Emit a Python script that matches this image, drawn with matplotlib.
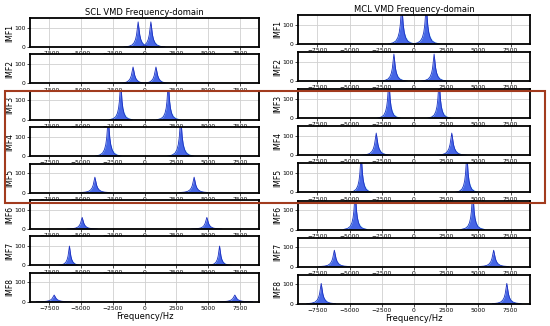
import numpy as np
import matplotlib
matplotlib.use("Agg")
import matplotlib.pyplot as plt
from matplotlib.patches import Rectangle

# ── Data ─────────────────────────────────────────────────────────────────────
IMF_LABELS = ["IMF1", "IMF2", "IMF3", "IMF4", "IMF5", "IMF6", "IMF7", "IMF8"]

# peak centre (Hz, mirrored at +/-), peak height, width scale
SCL_CENTERS = [500, 900, 1870, 2850, 3900, 4900, 5900, 7100]
SCL_HEIGHTS = [130, 85, 200, 200, 80, 60, 100, 35]
SCL_WIDTHS = [1.6, 1.7, 1.3, 1.5, 1.7, 1.7, 1.4, 2.0]

MCL_CENTERS = [950, 1560, 1950, 2930, 4100, 4560, 6180, 7200]
MCL_HEIGHTS = [200, 140, 200, 115, 200, 200, 85, 105]
MCL_WIDTHS = [1.5, 1.5, 1.3, 1.7, 1.3, 1.3, 1.7, 1.6]

# normalised shape of one spectral peak (offset in Hz, relative amplitude)
PEAK_OFFSETS = [-700, -450, -300, -200, -130, -80, -40, 0,
                40, 80, 130, 200, 300, 450, 700]
PEAK_SHAPE = [0.0, 0.03, 0.08, 0.17, 0.3, 0.48, 0.74, 1.0,
              0.74, 0.48, 0.3, 0.17, 0.08, 0.03, 0.0]

XTICKS = [-7500, -5000, -2500, 0, 2500, 5000, 7500]

# ── Style ────────────────────────────────────────────────────────────────────
BLUE = "#2440e0"
CYAN = "#b8ffff"
W, H = 550, 326

fig = plt.figure(figsize=(W / 100, H / 100), dpi=100)


def draw_column(left_px, width_px, top_px, pitch_px, centers, heights, widths, title):
    offs = np.array(PEAK_OFFSETS, dtype=float)
    shape = np.array(PEAK_SHAPE, dtype=float)
    axes = []
    for i, lab in enumerate(IMF_LABELS):
        top = top_px + i * pitch_px
        ax = fig.add_axes([left_px / W, 1 - (top + 29) / H, width_px / W, 29 / H])
        for sign in (-1, 1):
            x = sign * centers[i] + offs * widths[i]
            ax.fill_between(sign * centers[i] + offs * widths[i] * 1.6,
                            0, heights[i] * shape * 0.7, color=CYAN, alpha=0.7, lw=0)
            ax.fill_between(x, 0, heights[i] * shape, color=BLUE, alpha=0.8, lw=0)
            ax.plot(x, heights[i] * shape, color="#1a2fc0", lw=0.6)
        ax.set_xlim(-9000, 9000)
        ax.set_ylim(0, 150)
        ax.set_xticks(XTICKS)
        ax.set_yticks([0, 100])
        ax.grid(True, color="#d0d0d0", lw=0.6)
        ax.set_axisbelow(True)
        ax.tick_params(labelsize=4.3, length=2, width=0.5, pad=1)
        for sp in ax.spines.values():
            sp.set_linewidth(1.3)
        ax.set_ylabel(lab, fontsize=5.5, labelpad=0.5)
        axes.append(ax)
    axes[0].set_title(title, fontsize=6, pad=2)
    axes[-1].set_xlabel("Frequency/Hz", fontsize=6, labelpad=1)


draw_column(30, 229, 18, 36.4, SCL_CENTERS, SCL_HEIGHTS, SCL_WIDTHS,
            "SCL VMD Frequency-domain")
draw_column(298, 232, 15, 37.1, MCL_CENTERS, MCL_HEIGHTS, MCL_WIDTHS,
            "MCL VMD Frequency-domain")

# highlight box around IMF3-IMF5
x0, y0, x1, y1 = 5, 91, 545, 203
fig.patches.append(Rectangle((x0 / W, 1 - y1 / H), (x1 - x0) / W, (y1 - y0) / H,
                             transform=fig.transFigure, fill=False,
                             edgecolor="#a23b1e", lw=1.5, zorder=10))

fig.savefig("out.png", dpi=100)
